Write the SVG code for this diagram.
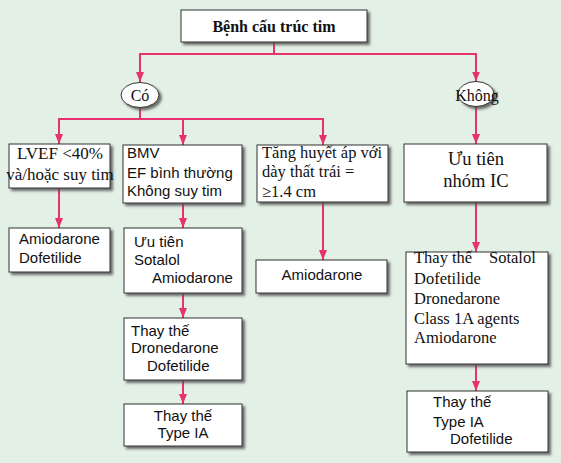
<svg xmlns="http://www.w3.org/2000/svg" width="561" height="463" viewBox="0 0 561 463">
<defs>
<filter id="sh" x="-10%" y="-10%" width="130%" height="140%">
<feDropShadow dx="2.5" dy="2.5" stdDeviation="0.8" flood-color="#555" flood-opacity="0.85"/>
</filter>
<marker id="ar" viewBox="0 0 10 8" refX="10" refY="4" markerWidth="10" markerHeight="8" markerUnits="userSpaceOnUse" orient="auto">
<path d="M0,0 L10,4 L0,8 z" fill="#e6336f"/>
</marker>
</defs>
<style>
.box{fill:#fff;stroke:#333;stroke-width:1;filter:url(#sh)}
.c{fill:none;stroke:#e6336f;stroke-width:2}
.a{marker-end:url(#ar)}
.s{font-family:"Liberation Serif","Times New Roman",serif;fill:#111}
.n{font-family:"Liberation Sans",Arial,sans-serif;font-size:15px;fill:#111}
.m{text-anchor:middle}
</style>
<rect x="0" y="0" width="561" height="463" fill="#e3f0e6"/>
<g id="connectors">
<path class="c" d="M274,42 V54"/>
<path class="c" d="M139,54 H477"/>
<path class="c a" d="M140,54 V82"/>
<path class="c a" d="M476,54 V81.5"/>
<path class="c" d="M140,107.5 V119"/>
<path class="c" d="M58,119 H324"/>
<path class="c a" d="M59,119 V144"/>
<path class="c a" d="M183,119 V145"/>
<path class="c a" d="M323,119 V145"/>
<path class="c a" d="M476,106.5 V144"/>
<path class="c a" d="M59,188 V228"/>
<path class="c a" d="M183,203 V228"/>
<path class="c a" d="M323,202 V260"/>
<path class="c a" d="M476,202 V252"/>
<path class="c a" d="M183,293 V318"/>
<path class="c a" d="M183,380 V404"/>
<path class="c a" d="M476,364 V391"/>
</g>
<g id="n-title">
<rect class="box" x="181" y="10" width="186" height="32"/>
<text class="s m" x="274" y="32" font-size="16" font-weight="bold">Bệnh cấu trúc tim</text>
</g>
<g id="n-co">
<ellipse class="box" cx="140" cy="95" rx="19" ry="12.5"/>
<text class="s m" x="140" y="101" font-size="16">Có</text>
</g>
<g id="n-khong">
<ellipse class="box" cx="476" cy="94" rx="18" ry="12.5"/>
<text class="s m" x="477" y="101" font-size="16">Không</text>
</g>
<g id="n-lvef">
<rect class="box" x="9" y="144" width="101" height="44"/>
<text class="s m" x="60" y="159" font-size="17">LVEF &lt;40%</text>
<text class="s m" x="60" y="180" font-size="17">và/hoặc suy tim</text>
</g>
<g id="n-bmv">
<rect class="box" x="123" y="145" width="119" height="58"/>
<text class="n" x="127" y="158">BMV</text>
<text class="n" x="127" y="178">EF bình thường</text>
<text class="n" x="127" y="196">Không suy tim</text>
</g>
<g id="n-tha">
<rect class="box" x="257" y="145" width="131" height="57"/>
<text class="s" x="262" y="158" font-size="16.5">Tăng huyết áp với</text>
<text class="s" x="262" y="177" font-size="16.5">dày thất trái =</text>
<text class="s" x="262" y="197" font-size="16.5">≥1.4 cm</text>
</g>
<g id="n-ic">
<rect class="box" x="404" y="144" width="143" height="58"/>
<text class="s m" x="476" y="165" font-size="18.5">Ưu tiên</text>
<text class="s m" x="476" y="187" font-size="18.5">nhóm IC</text>
</g>
<g id="n-amio1">
<rect class="box" x="9" y="228" width="101" height="44"/>
<text class="n" x="19" y="244">Amiodarone</text>
<text class="n" x="19" y="263">Dofetilide</text>
</g>
<g id="n-uutien">
<rect class="box" x="124" y="228" width="118" height="65"/>
<text class="n" x="134" y="247">Ưu tiên</text>
<text class="n" x="134" y="265">Sotalol</text>
<text class="n" x="152" y="283">Amiodarone</text>
</g>
<g id="n-amio3">
<rect class="box" x="256" y="260" width="131" height="33"/>
<text class="n m" x="322" y="280">Amiodarone</text>
</g>
<g id="n-thaythe-r">
<rect class="box" x="406" y="252" width="142" height="112"/>
<text class="s" x="414" y="263" font-size="16.5">Thay thế<tspan x="489">Sotalol</tspan></text>
<text class="s" x="414" y="284" font-size="16.5">Dofetilide</text>
<text class="s" x="414" y="304" font-size="16.5">Dronedarone</text>
<text class="s" x="414" y="324" font-size="16.5">Class 1A agents</text>
<text class="s" x="414" y="343" font-size="16.5">Amiodarone</text>
</g>
<g id="n-thaythe2">
<rect class="box" x="124" y="318" width="118" height="62"/>
<text class="n" x="131" y="336">Thay thế</text>
<text class="n" x="131" y="353">Dronedarone</text>
<text class="n" x="147" y="371">Dofetilide</text>
</g>
<g id="n-typeia">
<rect class="box" x="124" y="404" width="118" height="42"/>
<text class="n m" x="183" y="421">Thay thế</text>
<text class="n m" x="183" y="438">Type IA</text>
</g>
<g id="n-final-r">
<rect class="box" x="407" y="391" width="141" height="61"/>
<text class="n" x="433" y="407">Thay thế</text>
<text class="n" x="433" y="427">Type IA</text>
<text class="n" x="450" y="444">Dofetilide</text>
</g>
</svg>
